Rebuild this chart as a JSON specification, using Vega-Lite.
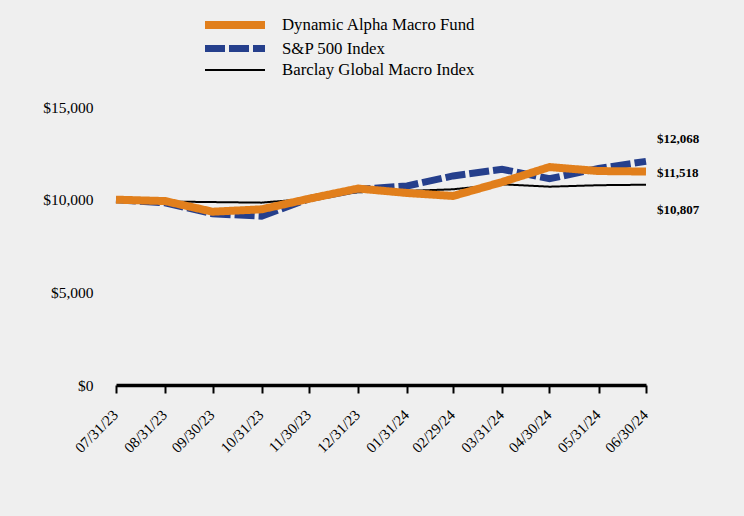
{
  "$schema": "https://vega.github.io/schema/vega-lite/v6.json",
  "width": 530,
  "height": 278,
  "autosize": {"type": "none"},
  "padding": {"left": 116, "top": 107, "right": 98, "bottom": 131},
  "background": "#efefef",
  "config": {
    "view": {"stroke": null},
    "font": "Liberation Serif",
    "axis": {"labelFont": "Liberation Serif", "labelColor": "#000", "grid": false, "title": null},
    "legend": {"title": null, "orient": "none", "legendX": 107, "legendY": -94, "labelFont": "Liberation Serif", "labelFontSize": 16.8, "labelColor": "#000", "labelLimit": 400, "symbolSize": 256, "labelOffset": 35, "rowPadding": 3, "symbolType": "M-3.75,0H3.75"}
  },
  "data": {
    "values": [
      {"date": "2023-07-31", "series": "Barclay Global Macro Index", "value": 10000},
      {"date": "2023-08-31", "series": "Barclay Global Macro Index", "value": 9900},
      {"date": "2023-09-30", "series": "Barclay Global Macro Index", "value": 9870},
      {"date": "2023-10-31", "series": "Barclay Global Macro Index", "value": 9840},
      {"date": "2023-11-30", "series": "Barclay Global Macro Index", "value": 10050},
      {"date": "2023-12-31", "series": "Barclay Global Macro Index", "value": 10400},
      {"date": "2024-01-31", "series": "Barclay Global Macro Index", "value": 10470},
      {"date": "2024-02-29", "series": "Barclay Global Macro Index", "value": 10560},
      {"date": "2024-03-31", "series": "Barclay Global Macro Index", "value": 10830},
      {"date": "2024-04-30", "series": "Barclay Global Macro Index", "value": 10700},
      {"date": "2024-05-31", "series": "Barclay Global Macro Index", "value": 10780},
      {"date": "2024-06-30", "series": "Barclay Global Macro Index", "value": 10807},
      {"date": "2023-07-31", "series": "S&P 500 Index", "value": 10000},
      {"date": "2023-08-31", "series": "S&P 500 Index", "value": 9830},
      {"date": "2023-09-30", "series": "S&P 500 Index", "value": 9240},
      {"date": "2023-10-31", "series": "S&P 500 Index", "value": 9110},
      {"date": "2023-11-30", "series": "S&P 500 Index", "value": 10050},
      {"date": "2023-12-31", "series": "S&P 500 Index", "value": 10560},
      {"date": "2024-01-31", "series": "S&P 500 Index", "value": 10740},
      {"date": "2024-02-29", "series": "S&P 500 Index", "value": 11280},
      {"date": "2024-03-31", "series": "S&P 500 Index", "value": 11640},
      {"date": "2024-04-30", "series": "S&P 500 Index", "value": 11130},
      {"date": "2024-05-31", "series": "S&P 500 Index", "value": 11680},
      {"date": "2024-06-30", "series": "S&P 500 Index", "value": 12068},
      {"date": "2023-07-31", "series": "Dynamic Alpha Macro Fund", "value": 10000},
      {"date": "2023-08-31", "series": "Dynamic Alpha Macro Fund", "value": 9925},
      {"date": "2023-09-30", "series": "Dynamic Alpha Macro Fund", "value": 9350},
      {"date": "2023-10-31", "series": "Dynamic Alpha Macro Fund", "value": 9480},
      {"date": "2023-11-30", "series": "Dynamic Alpha Macro Fund", "value": 10050},
      {"date": "2023-12-31", "series": "Dynamic Alpha Macro Fund", "value": 10600},
      {"date": "2024-01-31", "series": "Dynamic Alpha Macro Fund", "value": 10360},
      {"date": "2024-02-29", "series": "Dynamic Alpha Macro Fund", "value": 10200},
      {"date": "2024-03-31", "series": "Dynamic Alpha Macro Fund", "value": 10950},
      {"date": "2024-04-30", "series": "Dynamic Alpha Macro Fund", "value": 11760},
      {"date": "2024-05-31", "series": "Dynamic Alpha Macro Fund", "value": 11545},
      {"date": "2024-06-30", "series": "Dynamic Alpha Macro Fund", "value": 11518}
    ]
  },
  "encoding": {
    "x": {
      "field": "date", "type": "temporal",
      "scale": {"type": "utc", "nice": false,
        "domain": [{"year": 2023, "month": 7, "date": 31, "utc": true}, {"year": 2024, "month": 6, "date": 30, "utc": true}]},
      "axis": {
        "values": [
          {"year": 2023, "month": 7, "date": 31, "utc": true},
          {"year": 2023, "month": 8, "date": 31, "utc": true},
          {"year": 2023, "month": 9, "date": 30, "utc": true},
          {"year": 2023, "month": 10, "date": 31, "utc": true},
          {"year": 2023, "month": 11, "date": 30, "utc": true},
          {"year": 2023, "month": 12, "date": 31, "utc": true},
          {"year": 2024, "month": 1, "date": 31, "utc": true},
          {"year": 2024, "month": 2, "date": 29, "utc": true},
          {"year": 2024, "month": 3, "date": 31, "utc": true},
          {"year": 2024, "month": 4, "date": 30, "utc": true},
          {"year": 2024, "month": 5, "date": 31, "utc": true},
          {"year": 2024, "month": 6, "date": 30, "utc": true}
        ],
        "format": "%m/%d/%y",
        "labelAngle": -45,
        "labelAlign": "right",
        "labelBaseline": "top",
        "labelFontSize": 15,
        "labelPadding": 14,
        "labelOffset": -6,
        "labelOverlap": false,
        "labelBound": false,
        "labelFlush": false,
        "domainColor": "#000",
        "domainWidth": 3.5,
        "tickColor": "#000",
        "tickWidth": 2,
        "tickSize": 8
      }
    },
    "y": {
      "field": "value", "type": "quantitative",
      "scale": {"domain": [0, 15000], "nice": false},
      "axis": {
        "values": [0, 5000, 10000, 15000],
        "format": "$,.0f",
        "labelFontSize": 15.5,
        "domain": false,
        "ticks": false,
        "labelPadding": 23
      }
    }
  },
  "layer": [
    {
      "mark": {"type": "line", "strokeCap": "butt", "strokeJoin": "miter"},
      "encoding": {
        "color": {
          "field": "series", "type": "nominal",
          "scale": {"domain": ["Dynamic Alpha Macro Fund", "S&P 500 Index", "Barclay Global Macro Index"], "range": ["#e17f1c", "#253f8c", "#000000"]},
          "legend": {"encode": {"symbols": {"update": {"strokeJoin": {"value": "bevel"}}}}}
        },
        "strokeWidth": {
          "field": "series", "type": "nominal",
          "scale": {"type": "ordinal", "domain": ["Dynamic Alpha Macro Fund", "S&P 500 Index", "Barclay Global Macro Index"], "range": [8, 7, 2]},
          "legend": {"encode": {"symbols": {"update": {"strokeJoin": {"value": "bevel"}}}}}
        },
        "strokeDash": {
          "field": "series", "type": "nominal",
          "scale": {"domain": ["Dynamic Alpha Macro Fund", "S&P 500 Index", "Barclay Global Macro Index"], "range": [[1, 0], [20, 4], [1, 0]]},
          "legend": {"encode": {"symbols": {"update": {"strokeJoin": {"value": "bevel"}}}}}
        }
      }
    },
    {
      "transform": [{"filter": "datum.series === 'S&P 500 Index' && utcyear(datum.date) === 2024 && utcmonth(datum.date) === 5"}],
      "mark": {"type": "text", "align": "left", "baseline": "middle", "dx": 11, "dy": -22, "fontWeight": "bold", "fontSize": 13, "font": "Liberation Serif", "color": "#000"},
      "encoding": {"text": {"field": "value", "type": "quantitative", "format": "$,.0f"}}
    },
    {
      "transform": [{"filter": "datum.series === 'Dynamic Alpha Macro Fund' && utcyear(datum.date) === 2024 && utcmonth(datum.date) === 5"}],
      "mark": {"type": "text", "align": "left", "baseline": "middle", "dx": 11, "dy": 1, "fontWeight": "bold", "fontSize": 13, "font": "Liberation Serif", "color": "#000"},
      "encoding": {"text": {"field": "value", "type": "quantitative", "format": "$,.0f"}}
    },
    {
      "transform": [{"filter": "datum.series === 'Barclay Global Macro Index' && utcyear(datum.date) === 2024 && utcmonth(datum.date) === 5"}],
      "mark": {"type": "text", "align": "left", "baseline": "middle", "dx": 11, "dy": 25, "fontWeight": "bold", "fontSize": 13, "font": "Liberation Serif", "color": "#000"},
      "encoding": {"text": {"field": "value", "type": "quantitative", "format": "$,.0f"}}
    }
  ]
}
